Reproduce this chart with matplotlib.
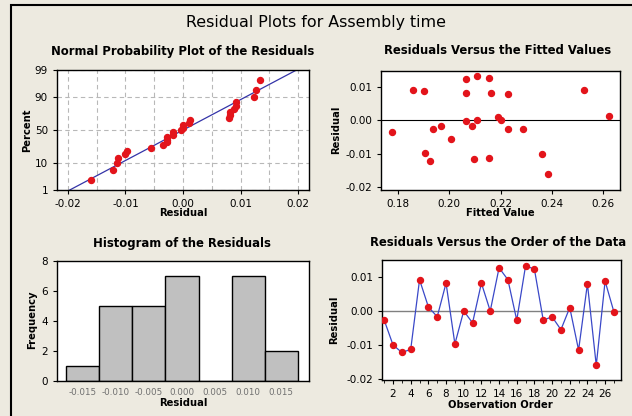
import numpy as np
import matplotlib
matplotlib.use("Agg")
import matplotlib.pyplot as plt
from matplotlib.patches import Rectangle
from statistics import NormalDist

# Residuals in observation order (1..27)
residuals = [-0.0027, -0.0100, -0.0122, -0.0113, 0.0092, 0.0012, -0.0017, 0.0082, -0.0097,
             0.0000, -0.0035, 0.0082, 0.0000, 0.0127, 0.0092, -0.0027, 0.0133, 0.0123,
             -0.0027, -0.0017, -0.0055, 0.0010, -0.0115, 0.0080, -0.0160, 0.0088, -0.0003]
# Fitted values, same order
fitted = [0.1935, 0.2360, 0.1925, 0.2157, 0.1860, 0.2623, 0.2090, 0.2067, 0.1905,
          0.2110, 0.1775, 0.2163, 0.2203, 0.2157, 0.2527, 0.2228, 0.2110, 0.2067,
          0.2288, 0.1967, 0.2007, 0.2190, 0.2097, 0.2228, 0.2385, 0.1900, 0.2067]
observation = list(range(1, 28))

hist_edges = [-0.0175, -0.0125, -0.0075, -0.0025, 0.0025, 0.0075, 0.0125, 0.0175]
prob_ticks = [1, 10, 50, 90, 99]

BG = "#EDEAE0"
RED = "#E3141B"
W, H = 632, 416

plt.rcParams["font.family"] = "DejaVu Sans"
fig = plt.figure(figsize=(W / 100, H / 100), dpi=100)
fig.patch.set_facecolor(BG)


def box(left, top, right, bottom):
    return [left / W, 1 - bottom / H, (right - left) / W, (bottom - top) / H]


def ftext(x, y, s, **kw):
    fig.text(x / W, 1 - y / H, s, ha="center", va="center", **kw)


def style(ax):
    ax.set_facecolor("white")
    for sp in ax.spines.values():
        sp.set_linewidth(1.0)
        sp.set_color("black")
    ax.tick_params(labelsize=7.5, length=3, width=0.8, colors="black")


# Normal probability plot
ax1 = fig.add_axes(box(57, 70, 309, 190))
style(ax1)
nd = NormalDist()
res_sorted = np.sort(residuals)
n = len(res_sorted)
z = [nd.inv_cdf((i - 0.3) / (n + 0.4)) for i in range(1, n + 1)]
mu, sd = np.mean(residuals), np.std(residuals, ddof=1)
zlo, zhi = nd.inv_cdf(0.01), nd.inv_cdf(0.99)
xl = np.array([-0.022, 0.022])
ax1.plot(xl, (xl - mu) / sd, color="#3434A8", lw=0.9, zorder=2)
ax1.plot(res_sorted, z, "o", color=RED, ms=4.3, mec=RED, zorder=3)
ax1.set_xlim(-0.0219, 0.0219)
ax1.set_ylim(zlo, zhi)
ax1.set_xticks([-0.02, -0.01, 0.0, 0.01, 0.02])
ax1.set_xticklabels(["-0.02", "-0.01", "0.00", "0.01", "0.02"])
ax1.set_xticks(np.arange(-0.02, 0.0201, 0.005), minor=True)
ax1.set_yticks([nd.inv_cdf(p / 100) for p in prob_ticks])
ax1.set_yticklabels([str(p) for p in prob_ticks])
ax1.tick_params(which="minor", length=0)
ax1.grid(True, which="both", ls=(0, (4, 3)), color="#B8B8B8", lw=0.8)
ax1.set_axisbelow(True)

# Residuals vs fitted
ax2 = fig.add_axes(box(381, 71, 620, 190))
style(ax2)
ax2.axhline(0, color="black", lw=0.8, zorder=1)
ax2.plot(fitted, residuals, "o", color=RED, ms=4.3, mec=RED, zorder=3)
ax2.set_xlim(0.1734, 0.2666)
ax2.set_ylim(-0.0209, 0.0148)
ax2.set_xticks([0.18, 0.20, 0.22, 0.24, 0.26])
ax2.set_xticklabels(["0.18", "0.20", "0.22", "0.24", "0.26"])
ax2.set_yticks([-0.02, -0.01, 0.0, 0.01])
ax2.set_yticklabels(["-0.02", "-0.01", "0.00", "0.01"])

# Histogram
ax3 = fig.add_axes(box(57, 261, 309, 381))
style(ax3)
ax3.hist(residuals, bins=hist_edges, color="#C0C0C0", edgecolor="black", lw=1.0)
ax3.set_xlim(-0.0189, 0.0192)
ax3.set_ylim(0, 8)
ax3.set_yticks([0, 2, 4, 6, 8])
ax3.set_xticks([-0.015, -0.010, -0.005, 0.0, 0.005, 0.010, 0.015])
ax3.set_xticklabels(["-0.015", "-0.010", "-0.005", "0.000", "0.005", "0.010", "0.015"])
ax3.tick_params(axis="x", labelsize=6.3, labelcolor="#707070", length=0, pad=5)

# Residuals vs order
ax4 = fig.add_axes(box(382, 260, 621, 380))
style(ax4)
ax4.axhline(0, color="#808080", lw=1.0, zorder=1)
ax4.plot(observation, residuals, "-", color="#3A48C8", lw=0.9, zorder=2)
ax4.plot(observation, residuals, "o", color=RED, ms=4.3, mec=RED, zorder=3)
ax4.set_xlim(0.75, 27.8)
ax4.set_ylim(-0.0203, 0.015)
ax4.set_xticks(range(2, 27, 2))
ax4.set_xticks(range(1, 28, 2), minor=True)
ax4.tick_params(which="minor", length=2)
ax4.set_yticks([-0.02, -0.01, 0.0, 0.01])
ax4.set_yticklabels(["-0.02", "-0.01", "0.00", "0.01"])

# Titles and labels
ftext(316, 22, "Residual Plots for Assembly time", fontsize=11.4)
tk = dict(fontsize=8.4, fontweight="bold")
ftext(183, 51, "Normal Probability Plot of the Residuals", **tk)
ftext(498, 51, "Residuals Versus the Fitted Values", **tk)
ftext(182, 243, "Histogram of the Residuals", **tk)
ftext(498, 243, "Residuals Versus the Order of the Data", **tk)

lk = dict(fontsize=7.2, fontweight="bold")
ftext(183, 213, "Residual", **lk)
ftext(500, 213, "Fitted Value", **lk)
ftext(183, 403, "Residual", **lk)
ftext(500, 405, "Observation Order", **lk)
ftext(27, 130, "Percent", rotation=90, **lk)
ftext(336, 130, "Residual", rotation=90, **lk)
ftext(32, 320, "Frequency", rotation=90, **lk)
ftext(334, 320, "Residual", rotation=90, **lk)

# frame around the graph window
fig.patches.append(Rectangle((11 / W, -0.1), 1.0, (H - 5) / H + 0.1, fill=False,
                             ec="black", lw=1.5, transform=fig.transFigure))

fig.savefig("out.png", dpi=100, facecolor=BG)
